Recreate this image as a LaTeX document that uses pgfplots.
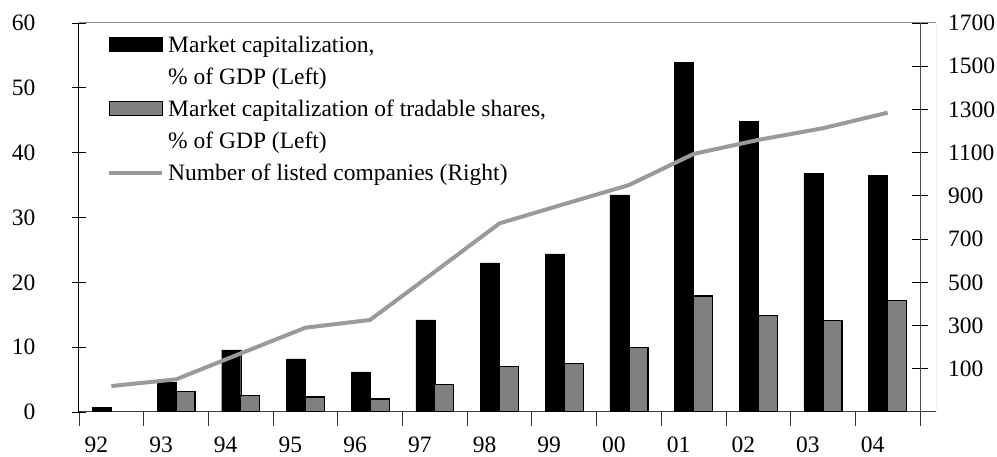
\documentclass[border=0pt]{standalone}
\usepackage{fontspec}
\setmainfont{Liberation Serif}
\usepackage{pgfplots}
\pgfplotsset{compat=1.18}
\definecolor{barg}{HTML}{808080}
\definecolor{lineg}{HTML}{9A9A9A}
\definecolor{frameg}{HTML}{8C8C8C}
\newcommand{\legtxt}[1]{\fontsize{23.5}{32}\selectfont\begin{tabular}[t]{@{}l@{}}#1\end{tabular}}
\begin{document}
\begin{tikzpicture}[font=\fontsize{23.5}{32}\selectfont]
\begin{axis}[
  scale only axis, width=857pt, height=389pt,
  at={(0pt,0pt)}, anchor=south west,
  xmin=-0.5, xmax=12.747, ymin=0, ymax=60,
  axis lines=left, axis line style={-, line width=1pt},
  y axis line style={black},
  x axis line style={black!75},
  ytick={0,10,...,60},
  xtick={0,...,12},
  xticklabels={92,93,94,95,96,97,98,99,00,01,02,03,04},
  minor xtick={-0.5,0.5,...,12.5},
  major x tick style={draw=none},
  minor x tick style={black!80, line width=0.8pt},
  major y tick style={black, line width=0.8pt},
  tick align=center, major tick length=15pt, minor tick length=14pt,
  ybar=0pt, bar width=19pt,
  /pgf/number format/assume math mode=true,
  yticklabel style={anchor=east, inner sep=0pt, xshift=-36pt},
  xticklabel style={anchor=north, inner sep=0pt, yshift=-10pt, xshift=-15pt},
  legend style={at={(28pt,382pt)}, anchor=north west, draw=none, fill=none,
    inner sep=0pt, row sep=40pt, column sep=4pt,
    cells={anchor=base west},
    nodes={inner sep=0pt}},
]
\addplot[fill=black, draw=black,
  legend image code/.code={\draw[fill=black,draw=black] (0pt,1pt) rectangle (53pt,15pt);}]
  coordinates {(0,0.7) (1,4.6) (2,9.6) (3,8.2) (4,6.2) (5,14.2) (6,23.0) (7,24.4) (8,33.5) (9,53.9) (10,44.8) (11,36.8) (12,36.5)};
\addlegendentry{\legtxt{Market capitalization,\\\% of GDP (Left)}}
\addplot[fill=barg, draw=black, line width=1.2pt,
  legend image code/.code={\draw[fill=barg,draw=black,line width=1.2pt] (0pt,1pt) rectangle (53pt,15pt);}]
  coordinates {(1,3.1) (2,2.6) (3,2.3) (4,2.0) (5,4.2) (6,7.0) (7,7.5) (8,10.0) (9,17.9) (10,14.9) (11,14.1) (12,17.2)};
\addlegendentry{\legtxt{Market capitalization of tradable shares,\\\% of GDP (Left)}}
\addlegendimage{legend image code/.code={\draw[lineg, line width=4pt] (0pt,7pt) -- (53pt,7pt);}}
\addlegendentry{\legtxt{Number of listed companies (Right)}}
\draw[frameg, line width=1pt] (rel axis cs:0,1) -- (rel axis cs:1,1) -- (rel axis cs:1,0);
\end{axis}
\begin{axis}[
  scale only axis, width=841pt, height=389pt,
  at={(0pt,0pt)}, anchor=south west,
  xmin=-0.5, xmax=12.5, ymin=-100, ymax=1700,
  axis x line=none, axis y line*=right,
  axis line style={-, line width=1pt, black!70},
  ytick={100,300,...,1700},
  tick align=center, major tick length=16pt,
  major y tick style={black, line width=0.8pt},
  /pgf/number format/assume math mode=true,
  /pgf/number format/set thousands separator={},
  yticklabel style={anchor=west, inner sep=0pt, xshift=20pt},
]
\addplot[lineg, line width=4pt, line join=round] coordinates {(0,20) (1,51) (2,171) (3,290) (4,326) (5,549) (6,773) (7,862) (8,950) (9,1094) (10,1159) (11,1213) (12,1285)};
\end{axis}
\pgfresetboundingbox
\path (-79pt,-45pt) rectangle (918pt,412pt);
\end{tikzpicture}
\end{document}
